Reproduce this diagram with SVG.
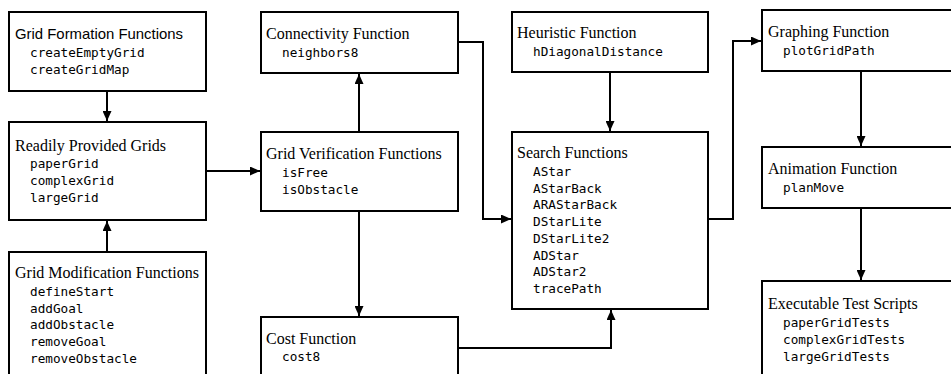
<svg xmlns="http://www.w3.org/2000/svg" width="951" height="374" viewBox="0 0 951 374">
<style>
.box{fill:#fff;stroke:#000;stroke-width:2}
.t{font-family:"Liberation Serif","Times New Roman",serif;font-size:16px;fill:#000}
.ts{font-family:"Liberation Sans",Arial,sans-serif;font-size:15px;fill:#000}
.m{font-family:"DejaVu Sans Mono","Liberation Mono",monospace;font-size:12.7px;fill:#000}
.c{fill:none;stroke:#000;stroke-width:2}
</style>
<defs>
<marker id="ah" markerUnits="userSpaceOnUse" markerWidth="10" markerHeight="9" refX="10" refY="4.5" orient="auto">
<path d="M0,0 L10,4.5 L0,9 z" fill="#000"/>
</marker>
</defs>
<rect width="951" height="374" fill="#fff"/>
<g id="connectors">
<line class="c" x1="107" y1="91" x2="107" y2="121" marker-end="url(#ah)"/>
<line class="c" x1="107" y1="252" x2="107" y2="221" marker-end="url(#ah)"/>
<line class="c" x1="206" y1="171" x2="260" y2="171" marker-end="url(#ah)"/>
<line class="c" x1="359" y1="132" x2="359" y2="74" marker-end="url(#ah)"/>
<path class="c" d="M458,42 H483 V219 H511" marker-end="url(#ah)"/>
<line class="c" x1="359" y1="211" x2="359" y2="316" marker-end="url(#ah)"/>
<path class="c" d="M458,348 H611 V310" marker-end="url(#ah)"/>
<line class="c" x1="610" y1="72" x2="610" y2="131" marker-end="url(#ah)"/>
<path class="c" d="M708,219 H733 V41 H761" marker-end="url(#ah)"/>
<line class="c" x1="861" y1="71" x2="861" y2="146" marker-end="url(#ah)"/>
<line class="c" x1="861" y1="208" x2="861" y2="280" marker-end="url(#ah)"/>
</g>
<g id="grid-formation">
<rect class="box" x="9" y="12" width="197" height="79"/>
<text class="ts" x="15" y="39" textLength="168" lengthAdjust="spacingAndGlyphs">Grid Formation Functions</text>
<text class="m" x="30" y="57">createEmptyGrid</text>
<text class="m" x="30" y="74">createGridMap</text>
</g>
<g id="readily-provided">
<rect class="box" x="9" y="122" width="197" height="98"/>
<text class="t" x="15" y="151">Readily Provided Grids</text>
<text class="m" x="30" y="168">paperGrid</text>
<text class="m" x="30" y="185">complexGrid</text>
<text class="m" x="30" y="202">largeGrid</text>
</g>
<g id="grid-modification">
<rect class="box" x="9" y="252" width="197" height="140"/>
<text class="t" x="15" y="278">Grid Modification Functions</text>
<text class="m" x="30" y="296">defineStart</text>
<text class="m" x="30" y="312.7">addGoal</text>
<text class="m" x="30" y="329.4">addObstacle</text>
<text class="m" x="30" y="346.1">removeGoal</text>
<text class="m" x="30" y="362.8">removeObstacle</text>
</g>
<g id="connectivity">
<rect class="box" x="261" y="12" width="197" height="61"/>
<text class="t" x="266" y="39">Connectivity Function</text>
<text class="m" x="282" y="57">neighbors8</text>
</g>
<g id="grid-verification">
<rect class="box" x="261" y="132" width="197" height="79"/>
<text class="t" x="266" y="159">Grid Verification Functions</text>
<text class="m" x="282" y="177">isFree</text>
<text class="m" x="282" y="194">isObstacle</text>
</g>
<g id="cost">
<rect class="box" x="261" y="317" width="197" height="80"/>
<text class="t" x="266" y="344">Cost Function</text>
<text class="m" x="282" y="361">cost8</text>
</g>
<g id="heuristic">
<rect class="box" x="512" y="12" width="196" height="60"/>
<text class="t" x="517" y="38">Heuristic Function</text>
<text class="m" x="533" y="56">hDiagonalDistance</text>
</g>
<g id="search">
<rect class="box" x="512" y="132" width="196" height="177"/>
<text class="t" x="517" y="158">Search Functions</text>
<text class="m" x="533" y="176">AStar</text>
<text class="m" x="533" y="192.7">AStarBack</text>
<text class="m" x="533" y="209.4">ARAStarBack</text>
<text class="m" x="533" y="226.1">DStarLite</text>
<text class="m" x="533" y="242.8">DStarLite2</text>
<text class="m" x="533" y="259.5">ADStar</text>
<text class="m" x="533" y="276.2">ADStar2</text>
<text class="m" x="533" y="292.9">tracePath</text>
</g>
<g id="graphing">
<rect class="box" x="762" y="10" width="200" height="61"/>
<text class="t" x="768" y="37">Graphing Function</text>
<text class="m" x="783" y="55">plotGridPath</text>
</g>
<g id="animation">
<rect class="box" x="762" y="147" width="200" height="61"/>
<text class="t" x="768" y="174">Animation Function</text>
<text class="m" x="783" y="192">planMove</text>
</g>
<g id="tests">
<rect class="box" x="762" y="281" width="200" height="110"/>
<text class="t" x="768" y="309">Executable Test Scripts</text>
<text class="m" x="783" y="327">paperGridTests</text>
<text class="m" x="783" y="344">complexGridTests</text>
<text class="m" x="783" y="361">largeGridTests</text>
</g>
</svg>
